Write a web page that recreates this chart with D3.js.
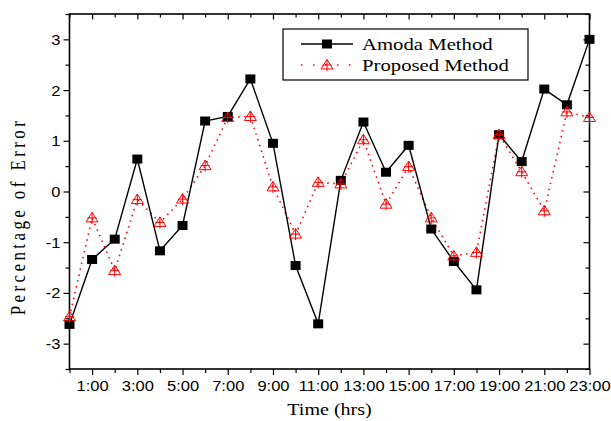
<!DOCTYPE html>
<html>
<head>
<meta charset="utf-8">
<script src="https://cdn.jsdelivr.net/npm/d3@7.9.0/dist/d3.min.js"></script>
<style>
  body { margin: 0; background: #fff; }
  svg { display: block; }
</style>
</head>
<body>
<svg id="chart" width="611" height="421"></svg>
<script>
// data
const hours = d3.range(0, 24);
const amoda = [-2.62, -1.34, -0.94, 0.64, -1.17, -0.67, 1.39, 1.48, 2.22, 0.95, -1.46, -2.61,
               0.22, 1.37, 0.38, 0.91, -0.74, -1.38, -1.94, 1.12, 0.59, 2.02, 1.71, 3.0];
const proposed = [-2.47, -0.52, -1.56, -0.16, -0.61, -0.15, 0.51, 1.46, 1.48, 0.09, -0.84, 0.18,
                  0.15, 1.02, -0.25, 0.49, -0.52, -1.27, -1.2, 1.12, 0.39, -0.38, 1.57, 1.46];
const xTickLabels = ["1:00", "3:00", "5:00", "7:00", "9:00", "11:00", "13:00", "15:00",
                     "17:00", "19:00", "21:00", "23:00"];
const yTicks = [-3, -2, -1, 0, 1, 2, 3];
const legendLabels = ["Amoda Method", "Proposed Method"];

const margin = { top: 14, left: 69.5 };
const width = 520, height = 355;
const serif = "'Liberation Serif', 'Times New Roman', serif";
const sans = "'Liberation Sans', Arial, sans-serif";
const stretch = 1.18; // the original picture is a bit wider than tall

const svg = d3.select("#chart");
const g = svg.append("g").attr("transform", `translate(${margin.left},${margin.top})`);

const x = d3.scaleLinear().domain([0, 23]).range([0, width]);
const y = d3.scaleLinear().domain([-3.5, 3.5]).range([height, 0]);

// **axes**
const majorX = d3.range(1, 24, 2);
const minorX = d3.range(0, 24, 2);
const majorY = yTicks;
const minorY = d3.range(-3.5, 3.6, 1);

function tickStyle(sel) {
  sel.select(".domain").remove();
  sel.selectAll("line").attr("stroke", "#000").attr("stroke-width", 1.2);
}

// bottom
const bottom = g.append("g").attr("transform", `translate(0,${height})`)
  .call(d3.axisBottom(x).tickValues(majorX).tickSize(6).tickFormat(""))
  .call(tickStyle);
bottom.selectAll(".tick").append("text")
  .attr("transform", `translate(0,22) scale(${stretch},1)`)
  .attr("text-anchor", "middle")
  .attr("font-family", sans).attr("font-size", 14).attr("fill", "#000")
  .text((d, i) => xTickLabels[i]);
g.append("g").attr("transform", `translate(0,${height})`)
  .call(d3.axisBottom(x).tickValues(minorX).tickSize(4).tickFormat(""))
  .call(tickStyle);

// top (inward)
g.append("g")
  .call(d3.axisBottom(x).tickValues(majorX).tickSize(5.5).tickFormat(""))
  .call(tickStyle);
g.append("g")
  .call(d3.axisBottom(x).tickValues(minorX).tickSize(3.5).tickFormat(""))
  .call(tickStyle);

// left
const left = g.append("g")
  .call(d3.axisLeft(y).tickValues(majorY).tickSize(6).tickFormat(""))
  .call(tickStyle);
left.selectAll(".tick").append("text")
  .attr("transform", `translate(-9,5) scale(${stretch},1)`)
  .attr("text-anchor", "end")
  .attr("font-family", sans).attr("font-size", 14).attr("fill", "#000")
  .text(d => String(d));
g.append("g")
  .call(d3.axisLeft(y).tickValues(minorY).tickSize(4).tickFormat(""))
  .call(tickStyle);

// right (inward)
g.append("g").attr("transform", `translate(${width},0)`)
  .call(d3.axisLeft(y).tickValues(majorY).tickSize(6).tickFormat(""))
  .call(tickStyle);
g.append("g").attr("transform", `translate(${width},0)`)
  .call(d3.axisLeft(y).tickValues(minorY).tickSize(4).tickFormat(""))
  .call(tickStyle);

// frame
g.append("rect").attr("width", width).attr("height", height)
  .attr("fill", "none").attr("stroke", "#000").attr("stroke-width", 1.6);

// **axis titles**
svg.append("text")
  .attr("transform", `translate(${margin.left + width / 2},415) scale(${stretch},1)`)
  .attr("text-anchor", "middle").attr("font-family", serif).attr("font-size", 17)
  .text("Time (hrs)");
svg.append("text")
  .attr("transform", `translate(25,${margin.top + y(0) + 25}) scale(${stretch},1) rotate(-90)`)
  .attr("text-anchor", "middle").attr("font-family", serif).attr("font-size", 17)
  .attr("letter-spacing", 3.4)
  .text("Percentage of Error");

// **series**
const line = d3.line().x((d, i) => x(hours[i])).y(d => y(d));

const triPath = "M0,-5.5L6,4L-6,4Z M0,-5.5V6 M-4.5,0H4.5";

function drawTriangle(sel) {
  sel.append("path").attr("d", triPath)
    .attr("fill", "none").attr("stroke", "#f00").attr("stroke-width", 1);
}

g.append("path").datum(proposed)
  .attr("d", line).attr("fill", "none")
  .attr("stroke", "#f00").attr("stroke-width", 1.6)
  .attr("stroke-dasharray", "1.5,4.5");

g.append("path").datum(amoda)
  .attr("d", line).attr("fill", "none")
  .attr("stroke", "#000").attr("stroke-width", 1.4);

g.selectAll(".sq").data(amoda).join("rect")
  .attr("class", "sq")
  .attr("x", (d, i) => x(hours[i]) - 5).attr("y", d => y(d) - 4.5)
  .attr("width", 10).attr("height", 9).attr("fill", "#000");

g.selectAll(".tri").data(proposed).join("g")
  .attr("class", "tri")
  .attr("transform", (d, i) => `translate(${x(hours[i])},${y(d)})`)
  .call(drawTriangle);

// **legend**
const lg = svg.append("g").attr("transform", "translate(283,29)");
lg.append("rect").attr("width", 245).attr("height", 51)
  .attr("fill", "#fff").attr("stroke", "#000").attr("stroke-width", 1.2);

lg.append("line").attr("x1", 18).attr("x2", 70).attr("y1", 15).attr("y2", 15)
  .attr("stroke", "#000").attr("stroke-width", 1.4);
lg.append("rect").attr("x", 39).attr("y", 10.5).attr("width", 10).attr("height", 9).attr("fill", "#000");

lg.append("line").attr("x1", 18).attr("x2", 70).attr("y1", 36).attr("y2", 36)
  .attr("stroke", "#f00").attr("stroke-width", 1.6).attr("stroke-dasharray", "1.5,10.5");
lg.append("g").attr("transform", "translate(44,36)").call(drawTriangle);

lg.selectAll(".lt").data(legendLabels).join("text")
  .attr("class", "lt")
  .attr("transform", (d, i) => `translate(79,${21 + i * 21}) scale(1.22,1)`)
  .attr("font-family", serif).attr("font-size", 17)
  .text(d => d);
</script>
</body>
</html>
